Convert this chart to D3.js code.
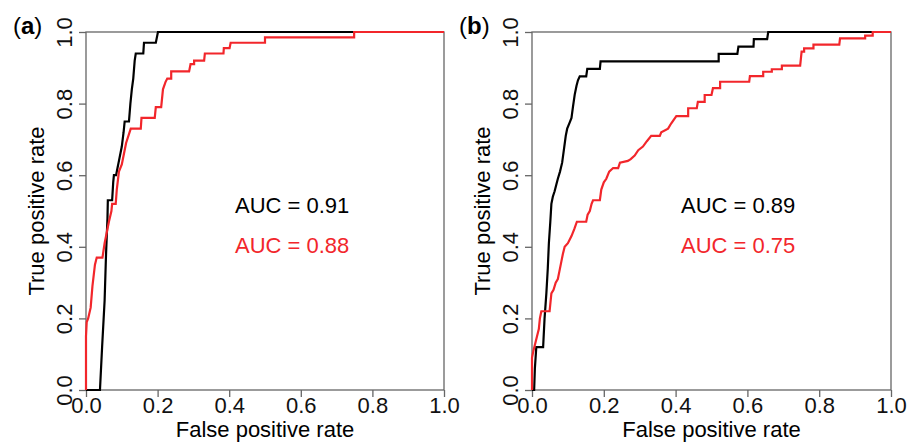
<!DOCTYPE html>
<html>
<head>
<meta charset="utf-8">
<script src="https://cdn.jsdelivr.net/npm/d3@7"></script>
<style>
  body { margin: 0; background: #fff; }
  svg { font-family: 'Liberation Sans', Arial, sans-serif; }
</style>
</head>
<body>
<div class="chart"></div>
<script>
// ROC curves, two panels

const TICKS = [0, 0.2, 0.4, 0.6, 0.8, 1.0]
const TICK_LABELS = ['0.0', '0.2', '0.4', '0.6', '0.8', '1.0']

// panel (a) black
const A_BLACK_FPR = [0, 0.039, 0.045, 0.052, 0.056, 0.060, 0.061, 0.073, 0.076, 0.078, 0.084, 0.088, 0.092, 0.100, 0.105, 0.108, 0.120, 0.124, 0.128, 0.132, 0.136, 0.139, 0.160, 0.162, 0.195, 0.201, 1]
const A_BLACK_TPR = [0, 0, 0.12, 0.25, 0.38, 0.48, 0.53, 0.53, 0.58, 0.60, 0.60, 0.62, 0.64, 0.68, 0.72, 0.75, 0.75, 0.80, 0.84, 0.87, 0.92, 0.94, 0.94, 0.97, 0.97, 1.0, 1.0]

// panel (a) red
const A_RED_FPR = [0, 0, 0.002, 0.006, 0.013, 0.018, 0.025, 0.030, 0.046, 0.052, 0.058, 0.064, 0.071, 0.073, 0.083, 0.086, 0.092, 0.100, 0.106, 0.112, 0.125, 0.153, 0.155, 0.192, 0.195, 0.210, 0.215, 0.222, 0.227, 0.238, 0.238, 0.288, 0.292, 0.302, 0.302, 0.330, 0.332, 0.384, 0.385, 0.401, 0.404, 0.50, 0.50, 0.749, 0.749, 1]
const A_RED_TPR = [0, 0.15, 0.19, 0.20, 0.23, 0.29, 0.35, 0.37, 0.37, 0.41, 0.44, 0.47, 0.50, 0.52, 0.52, 0.56, 0.61, 0.63, 0.66, 0.69, 0.73, 0.73, 0.76, 0.76, 0.79, 0.79, 0.84, 0.86, 0.87, 0.87, 0.89, 0.89, 0.91, 0.91, 0.92, 0.92, 0.94, 0.94, 0.955, 0.955, 0.97, 0.97, 0.985, 0.985, 1.0, 1.0]

// panel (b) black
const B_BLACK_FPR = [0, 0.006, 0.008, 0.012, 0.031, 0.035, 0.040, 0.044, 0.047, 0.051, 0.054, 0.058, 0.063, 0.068, 0.072, 0.078, 0.084, 0.090, 0.094, 0.098, 0.104, 0.110, 0.114, 0.119, 0.124, 0.128, 0.133, 0.151, 0.154, 0.189, 0.191, 0.520, 0.520, 0.572, 0.575, 0.617, 0.618, 0.655, 0.658, 1]
const B_BLACK_TPR = [0, 0, 0.06, 0.12, 0.12, 0.20, 0.27, 0.34, 0.41, 0.47, 0.52, 0.54, 0.555, 0.575, 0.59, 0.61, 0.635, 0.68, 0.71, 0.73, 0.745, 0.76, 0.79, 0.825, 0.85, 0.865, 0.876, 0.876, 0.897, 0.897, 0.918, 0.918, 0.939, 0.939, 0.959, 0.959, 0.98, 0.98, 1.0, 1.0]

// panel (b) red
const B_RED_FPR = [0, 0, 0.004, 0.009, 0.014, 0.019, 0.022, 0.026, 0.049, 0.052, 0.054, 0.060, 0.066, 0.072, 0.076, 0.082, 0.086, 0.091, 0.100, 0.110, 0.118, 0.125, 0.151, 0.155, 0.161, 0.166, 0.170, 0.189, 0.193, 0.200, 0.207, 0.215, 0.226, 0.240, 0.245, 0.267, 0.275, 0.286, 0.296, 0.309, 0.320, 0.332, 0.356, 0.360, 0.379, 0.388, 0.402, 0.435, 0.435, 0.459, 0.462, 0.481, 0.481, 0.500, 0.504, 0.524, 0.524, 0.605, 0.607, 0.644, 0.644, 0.668, 0.668, 0.696, 0.696, 0.747, 0.751, 0.758, 0.758, 0.784, 0.784, 0.856, 0.858, 0.928, 0.928, 0.949, 0.949, 1]
const B_RED_TPR = [0, 0.09, 0.11, 0.13, 0.15, 0.17, 0.20, 0.22, 0.22, 0.25, 0.27, 0.28, 0.30, 0.31, 0.33, 0.36, 0.38, 0.40, 0.41, 0.43, 0.45, 0.47, 0.47, 0.49, 0.50, 0.52, 0.53, 0.53, 0.56, 0.58, 0.59, 0.61, 0.62, 0.62, 0.635, 0.64, 0.645, 0.655, 0.67, 0.68, 0.695, 0.71, 0.71, 0.72, 0.73, 0.745, 0.765, 0.765, 0.787, 0.787, 0.805, 0.805, 0.824, 0.824, 0.843, 0.843, 0.861, 0.861, 0.877, 0.877, 0.889, 0.889, 0.896, 0.896, 0.906, 0.906, 0.945, 0.945, 0.954, 0.954, 0.965, 0.965, 0.982, 0.982, 0.99, 0.99, 1.0, 1.0]

const PANEL_TAGS = ['a', 'b']
const AUC_BLACK = ['AUC = 0.91', 'AUC = 0.89']
const AUC_RED = ['AUC = 0.88', 'AUC = 0.75']

const BLACK = '#000'
const RED = '#f2262b'
const GRAY = '#666'

var svg = d3.select('.chart')
    .append('svg')
    .attr('width', 909)
    .attr('height', 442)

var panels = [
    { left: 86, right: 444, black: d3.zip(A_BLACK_FPR, A_BLACK_TPR), red: d3.zip(A_RED_FPR, A_RED_TPR) },
    { left: 532, right: 891, black: d3.zip(B_BLACK_FPR, B_BLACK_TPR), red: d3.zip(B_RED_FPR, B_RED_TPR) },
]
var plotTop = 32, plotBottom = 390

panels.forEach((p, i) => {
    var xScale = d3.scaleLinear().domain([0, 1]).range([p.left, p.right])
    var yScale = d3.scaleLinear().domain([0, 1]).range([plotBottom, plotTop])

    // frame
    svg.append('rect')
        .attr('x', p.left).attr('y', plotTop)
        .attr('width', p.right - p.left).attr('height', plotBottom - plotTop)
        .attr('fill', 'none')
        .attr('stroke', GRAY)
        .attr('stroke-width', 1.3)

    // X axis
    var xAxis = svg.append('g')
        .attr('transform', `translate(0, ${plotBottom})`)
        .call(d3.axisBottom(xScale).tickValues(TICKS).tickSize(7).tickPadding(5)
            .tickFormat((d, j) => TICK_LABELS[j]))
    xAxis.select('.domain').remove()
    xAxis.selectAll('line').attr('stroke', GRAY).attr('stroke-width', 1.3)
    xAxis.selectAll('text')
        .attr('font-size', '22px')
        .attr('font-family', "'Liberation Sans', Arial, sans-serif")
        .attr('fill', '#111')
        .attr('y', 23).attr('dy', 0)

    // Y axis, labels turned
    var yAxis = svg.append('g')
        .attr('transform', `translate(${p.left}, 0)`)
        .call(d3.axisLeft(yScale).tickValues(TICKS).tickSize(7)
            .tickFormat((d, j) => TICK_LABELS[j]))
    yAxis.select('.domain').remove()
    yAxis.selectAll('line').attr('stroke', GRAY).attr('stroke-width', 1.3)
    yAxis.selectAll('text')
        .attr('font-size', '22px')
        .attr('font-family', "'Liberation Sans', Arial, sans-serif")
        .attr('fill', '#111')
        .attr('transform', 'rotate(-90)')
        .attr('x', 0).attr('y', -14).attr('dy', 0)
        .attr('text-anchor', 'middle')

    // axis titles
    svg.append('text')
        .attr('x', (p.left + p.right) / 2)
        .attr('y', 437)
        .attr('text-anchor', 'middle')
        .attr('font-size', '22px')
        .text('False positive rate')

    svg.append('text')
        .attr('transform', `translate(${p.left - 42}, ${(plotTop + plotBottom) / 2}) rotate(-90)`)
        .attr('text-anchor', 'middle')
        .attr('font-size', '22px')
        .text('True positive rate')

    // panel tag
    var tag = svg.append('text')
        .attr('x', p.left - 73)
        .attr('y', 34)
        .attr('font-size', '24px')
    tag.append('tspan').text('(')
    tag.append('tspan').attr('font-weight', 'bold').text(PANEL_TAGS[i])
    tag.append('tspan').text(')')

    // curves
    var line = d3.line().x(d => xScale(d[0])).y(d => yScale(d[1]))

    svg.append('path')
        .datum(p.black)
        .attr('d', line)
        .attr('fill', 'none')
        .attr('stroke', BLACK)
        .attr('stroke-width', 2.2)

    svg.append('path')
        .datum(p.red)
        .attr('d', line)
        .attr('fill', 'none')
        .attr('stroke', RED)
        .attr('stroke-width', 2.2)

    // AUC labels
    svg.append('text')
        .attr('x', p.left + 149)
        .attr('y', 213)
        .attr('font-size', '22px')
        .attr('fill', BLACK)
        .text(AUC_BLACK[i])

    svg.append('text')
        .attr('x', p.left + 149)
        .attr('y', 253)
        .attr('font-size', '22px')
        .attr('fill', RED)
        .text(AUC_RED[i])
})
</script>
</body>
</html>
